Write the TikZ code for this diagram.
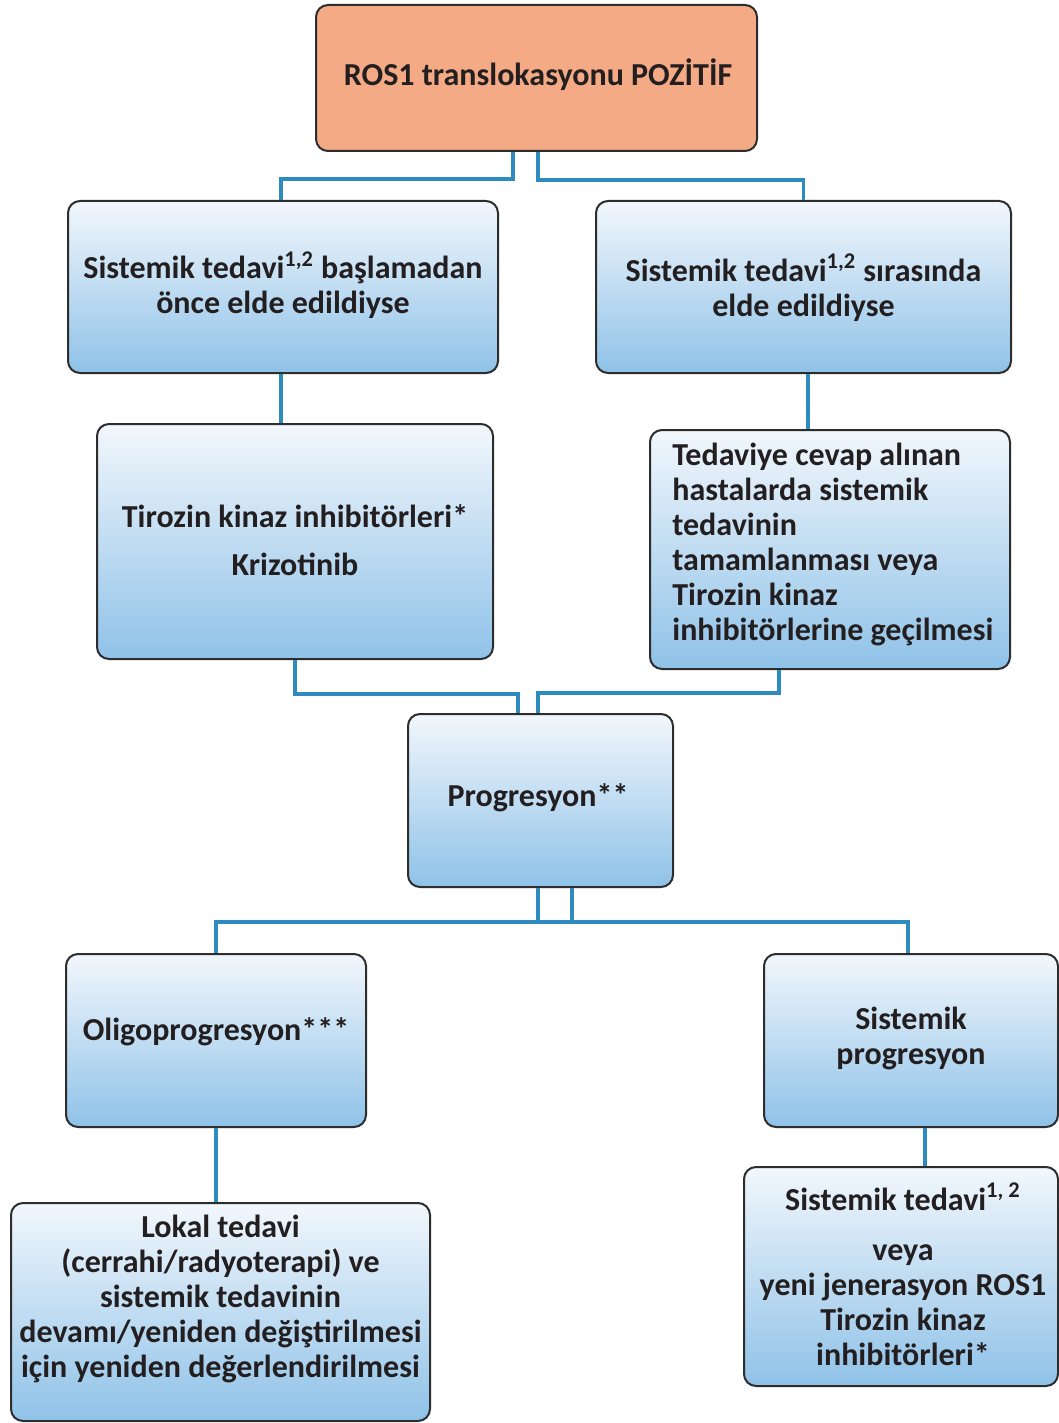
\documentclass[tikz,border=0pt]{standalone}
\usepackage{fontspec}
\setmainfont{Carlito}
\definecolor{linkblue}{RGB}{46,139,192}
\definecolor{boxtop}{RGB}{242,247,252}
\definecolor{boxbot}{RGB}{143,194,232}
\definecolor{rosfill}{RGB}{244,170,133}
\definecolor{edgegray}{RGB}{45,45,45}
\definecolor{textdark}{RGB}{35,31,32}
\begin{document}
\begin{tikzpicture}[x=0.5pt,y=-0.5pt,
  bluebox/.style={draw=edgegray, line width=1pt, rounded corners=6pt,
    top color=boxtop, bottom color=boxbot, inner sep=0pt},
  rosbox/.style={draw=edgegray, line width=1pt, rounded corners=6pt,
    fill=rosfill, inner sep=0pt},
  txt/.style={font=\bfseries\fontsize{16pt}{17.5pt}\selectfont,
    text=textdark, align=center, inner sep=0pt},
  conn/.style={draw=linkblue, line width=1.8pt}]
\useasboundingbox (0,0) rectangle (1059,1423);

% boxes
\node[rosbox, minimum width=220.5pt, minimum height=73pt] (top) at (536.5,78) {};
\node[bluebox, minimum width=215pt, minimum height=86pt] (l2) at (283,287) {};
\node[bluebox, minimum width=207.5pt, minimum height=86pt] (r2) at (803.5,287) {};
\node[bluebox, minimum width=198pt, minimum height=117.5pt] (l3) at (295,541.5) {};
\node[bluebox, minimum width=180pt, minimum height=119.5pt] (r3) at (830,549.5) {};
\node[bluebox, minimum width=132.5pt, minimum height=86.5pt] (prog) at (540.5,800.5) {};
\node[bluebox, minimum width=150pt, minimum height=86.5pt] (oligo) at (216,1040.5) {};
\node[bluebox, minimum width=147pt, minimum height=86.5pt] (sisprog) at (911,1040.5) {};
\node[bluebox, minimum width=209.5pt, minimum height=109pt] (lokal) at (220.5,1312) {};
\node[bluebox, minimum width=157pt, minimum height=109.5pt] (br) at (901,1276.5) {};

% texts
\node[txt] (ttop) at (538,75) {ROS1 translokasyonu POZİTİF};
\node[txt] (tl2) at (283,285) {Sistemik tedavi\textsuperscript{1,2} başlamadan\\önce elde edildiyse};
\node[txt] (tr2) at (803.5,287.5) {Sistemik tedavi\textsuperscript{1,2} sırasında\\elde edildiyse};
\node[txt] (tl3) at (295,540) {Tirozin kinaz inhibitörleri*\\[6.5pt]Krizotinib};
\node[txt, align=left, anchor=west] (tr3) at (672,544.5) {Tedaviye cevap alınan\\hastalarda sistemik\\tedavinin\\tamamlanması veya\\Tirozin kinaz\\inhibitörlerine geçilmesi};
\node[txt] (tprog) at (538,798) {Progresyon**};
\node[txt] (toligo) at (216,1032) {Oligoprogresyon***};
\node[txt] (tsisprog) at (911,1038.5) {Sistemik\\progresyon};
\node[txt] (tlokal) at (220.5,1299) {Lokal tedavi\\(cerrahi/radyoterapi) ve\\sistemik tedavinin\\devamı/yeniden değiştirilmesi\\için yeniden değerlendirilmesi};
\node[txt] (tbr) at (903,1274) {Sistemik tedavi\textsuperscript{1, 2}\\[7.5pt]veya\\yeni jenerasyon ROS1\\Tirozin kinaz\\inhibitörleri*};

% connectors
\coordinate (c1) at (513,179);
\coordinate (c2) at (538,180);
\coordinate (c5) at (518,694);
\coordinate (c6) at (538,693);
\coordinate (c7) at (538,922);
\coordinate (c8) at (572,922);
\draw[conn] (c1 |- top.south) -- (c1) -| ([xshift=-1pt]l2.north);
\draw[conn] (c2 |- top.south) -- (c2) -| (r2.north);
\draw[conn] ([xshift=-1pt]l2.south) -- ([xshift=-1pt]l2.south |- l3.north);
\draw[conn] ([xshift=2.25pt]r2.south) -- ([xshift=2.25pt]r2.south |- r3.north);
\draw[conn] (l3.south) |- (c5) -- (c5 |- prog.north);
\draw[conn] ([xshift=-25.5pt]r3.south) |- (c6) -- (c6 |- prog.north);
\draw[conn] (c7 |- prog.south) -- (c7) -| (oligo.north);
\draw[conn] (c8 |- prog.south) -- (c8) -- (c7) -| ([xshift=-1.5pt]sisprog.north);
\draw[conn] (oligo.south) -- (oligo.south |- lokal.north);
\draw[conn] ([xshift=7pt]sisprog.south) -- ([xshift=7pt]sisprog.south |- br.north);
\end{tikzpicture}
\end{document}
